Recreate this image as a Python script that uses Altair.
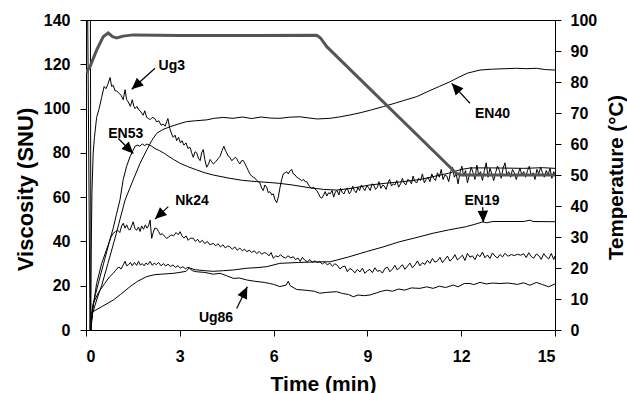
import math
import altair as alt
import pandas as pd

# ---------------- data ----------------
UG3 = [(0.05,150),(0.13,0),(0.16,30),(0.19,62),(0.23,80),(0.27,87),(0.34,96),(0.42,100),(0.5,105),(0.58,110),
       (0.64,109),(0.7,111),(0.77,114),(0.82,110),(0.87,110.5),(0.93,108),(0.98,108),(1.05,107),(1.12,106),(1.19,104),
       (1.25,108.5),(1.3,104),(1.35,103),(1.42,101),(1.48,104),(1.53,101),(1.57,100),(1.63,101),(1.68,99.5),(1.73,99),
       (1.78,98),(1.83,97),(1.88,99),(1.94,96),(2.0,95.5),(2.05,95),(2.12,96),(2.2,95.5),(2.26,94),(2.33,94.5),
       (2.4,92.5),(2.47,93),(2.53,92),(2.58,94),(2.62,95.5),(2.68,91),(2.74,88.5),(2.79,87),(2.85,88),(2.9,85.5),
       (2.96,87),(3.02,84.5),(3.07,85.5),(3.13,83.5),(3.2,84.5),(3.26,82),(3.33,82.5),(3.38,80),(3.43,78),(3.49,80.5),
       (3.54,80),(3.6,77.5),(3.65,76.5),(3.7,80),(3.75,81.5),(3.8,77),(3.86,73.5),(3.92,75),(3.97,77),(4.02,76),
       (4.07,75),(4.15,76),(4.23,77.5),(4.29,78.5),(4.35,81),(4.41,83),(4.46,81),(4.5,80),(4.55,78.5),(4.6,78),
       (4.66,76.5),(4.71,77),(4.77,78),(4.82,77.5),(4.87,76),(4.92,75),(4.98,76.5),(5.03,76.5),(5.09,75),(5.14,73.5),
       (5.19,72),(5.24,70.5),(5.3,69.5),(5.35,69),(5.41,68.5),(5.46,67.5),(5.51,67),(5.56,66.5),(5.62,64),(5.67,63),
       (5.72,65.5),(5.78,64.5),(5.83,62),(5.88,62.5),(5.94,61),(5.99,61.5),(6.04,59),(6.1,57.5),(6.15,60),(6.2,64),
       (6.26,68),(6.31,70.5),(6.37,71),(6.42,71.5),(6.47,70.5),(6.53,72),(6.58,72.5),(6.63,70.5),(6.69,70),(6.74,69),
       (6.8,68.5),(6.85,68),(6.9,67.5),(6.96,68),(7.01,67),(7.06,67),(7.12,65.5),(7.17,64.5),(7.22,64),(7.28,64.5),
       (7.33,63.5),(7.38,63),(7.44,61.5),(7.49,60),(7.54,59.5),(7.6,61),(7.65,62.5),(7.7,60.5),(7.76,62),(7.81,61.5),
       (7.87,63),(7.92,60),(7.98,62.5),(8.03,63),(8.09,61),(8.14,64),(8.2,62),(8.25,61.5),(8.31,63.5),(8.36,64),
       (8.42,61.5),(8.47,62.5),(8.53,65),(8.58,63),(8.64,62),(8.7,64.5),(8.75,63),(8.81,65.5),(8.87,64),(8.92,63),
       (8.98,65),(9.03,64.5),(9.09,63),(9.15,66),(9.2,65.5),(9.26,63.5),(9.32,64.5),(9.37,67),(9.43,64),(9.49,65.5),
       (9.54,65),(9.6,63.5),(9.66,66.5),(9.71,68),(9.77,65),(9.83,66),(9.88,65.5),(9.94,67.5),(10.0,64.5),(10.06,66),
       (10.12,68.5),(10.17,66.5),(10.23,65.5),(10.29,68),(10.35,67.5),(10.41,66),(10.46,69.5),(10.52,67),(10.58,66.5),
       (10.64,68.5),(10.7,67.5),(10.76,70.5),(10.82,66.5),(10.88,68),(10.94,69),(11.0,67),(11.06,70.5),(11.12,68.5),
       (11.18,67.5),(11.24,71),(11.3,69),(11.36,72.5),(11.42,68),(11.48,70),(11.54,69.5),(11.6,67),(11.66,71.5),
       (11.72,73.5),(11.78,69),(11.84,70.5),(11.9,66),(11.96,71),(12.02,74),(12.08,69.5),(12.14,72),(12.2,66.5),
       (12.26,70),(12.32,73.5),(12.38,71),(12.44,68),(12.5,74.5),(12.56,70),(12.62,71.5),(12.68,67.5),(12.74,72),
       (12.8,75.5),(12.86,69),(12.92,73),(12.98,70.5),(13.04,67.5),(13.1,71),(13.16,74),(13.22,72),(13.28,68.5),
       (13.34,73),(13.4,75.5),(13.46,70),(13.52,71.5),(13.58,69),(13.64,72.5),(13.7,71),(13.76,68),(13.82,70.5),
       (13.88,73),(13.94,70),(14.0,71.5),(14.06,69),(14.12,72),(14.18,74),(14.24,69.5),(14.3,71),(14.36,68),
       (14.42,72.5),(14.48,70.5),(14.54,73.5),(14.6,71),(14.66,69),(14.72,72),(14.78,70),(14.84,73),(14.9,68.5),
       (14.96,71.5),(15.0,70)]

EN53 = [(0.14,150),(0.16,0),(0.2,9),(0.3,16),(0.45,24),(0.6,32),(0.75,40),(0.87,46),(0.97,52),(1.09,59),(1.19,68),
        (1.3,74),(1.41,78.3),(1.5,81),(1.57,83),(1.65,83.5),(1.72,83),(1.8,84),(1.88,83.3),(1.95,84),(2.02,83.5),
        (2.1,83),(2.2,82),(2.35,81),(2.5,79.8),(2.58,79),(2.8,77),(3.01,75.3),(3.25,73.8),(3.54,72.3),(3.8,71),
        (4.07,70),(4.35,69.2),(4.6,68.5),(5.0,67.6),(5.46,67),(5.88,66.6),(6.2,66.2),(6.6,65.5),(7.16,64.2),(7.6,63.5),
        (8.02,63.2),(8.5,64),(9.08,65.5),(9.6,66.3),(10.15,67),(10.7,68),(11.21,69.6),(11.6,70.8),(12.0,72.5),(12.3,73.2),
        (13.0,73.2),(14.0,73.0),(14.6,73.3),(15.0,73.0)]

EN40 = [(0.16,3),(0.22,8),(0.35,14),(0.5,20),(0.7,30),(0.9,40),(1.05,48),(1.25,58.7),(1.4,64),(1.51,67.8),(1.73,75.3),
        (1.95,81.5),(2.1,85.5),(2.26,88.8),(2.45,90.5),(2.69,91.8),(2.95,93),(3.22,94.1),(3.5,94.5),(3.86,94.9),(4.1,95.6),
        (4.39,96),(4.7,95.6),(5.0,96.2),(5.3,95.5),(5.6,96.2),(5.9,95.7),(6.2,95.6),(6.5,96.1),(6.84,96.3),(7.1,95.8),
        (7.4,95.3),(7.8,95.6),(8.1,96.2),(8.44,97.1),(8.8,98.2),(9.1,99.3),(9.51,100.9),(9.9,102.5),(10.2,103.8),
        (10.58,105.4),(10.9,107.5),(11.3,110),(11.64,112.1),(11.9,114),(12.2,116),(12.6,117.4),(13.0,117.8),(13.4,118),
        (13.77,118.2),(14.1,118),(14.4,118.2),(14.7,117.6),(15.0,117.4)]

NK24 = [(0.16,0),(0.22,10),(0.34,21),(0.5,30),(0.65,36),(0.8,42),(0.87,43.7),(0.95,44.5),(1.02,45),(1.08,44),(1.14,47),
        (1.19,48.2),(1.25,46),(1.3,47.5),(1.36,45.5),(1.41,45.2),(1.46,47),(1.51,48.9),(1.56,46),(1.62,45),(1.68,46.5),
        (1.73,44.5),(1.78,47),(1.84,45.5),(1.9,47.5),(1.95,46),(2.0,47),(2.05,49.7),(2.1,41.4),(2.15,44),(2.2,46),
        (2.26,45.9),(2.32,44.5),(2.38,43),(2.44,43.5),(2.5,42.5),(2.58,41.4),(2.65,42),(2.72,43),(2.8,42.5),(2.88,44),
        (2.95,43),(3.01,44.4),(3.07,42.5),(3.13,41.5),(3.2,42.5),(3.27,40.5),(3.34,41.5),(3.43,41.4),(3.5,40),(3.57,41),
        (3.64,39.5),(3.72,40.5),(3.8,39),(3.88,40),(3.96,38.5),(4.07,39.1),(4.15,38),(4.22,39),(4.3,37.5),(4.38,38.5),
        (4.46,37),(4.53,38),(4.6,37.6),(4.68,36.5),(4.76,37.5),(4.84,36),(4.92,37),(5.0,35.8),(5.07,36.5),(5.14,35.4),
        (5.22,36),(5.3,35),(5.38,35.8),(5.46,34.5),(5.54,35.5),(5.62,34.2),(5.7,35),(5.78,34.6),(5.85,33.5),(5.92,35),
        (5.99,32.4),(6.07,33.5),(6.15,33),(6.22,34),(6.3,33),(6.38,32.5),(6.46,33.5),(6.55,32.6),(6.63,33.1),(6.7,31.8),
        (6.78,32.5),(6.85,31),(6.92,32.8),(7.0,31.5),(7.08,30.8),(7.16,31.8),(7.24,30.5),(7.32,31.2),(7.4,30.5),(7.48,30.8),
        (7.56,29.8),(7.64,30.6),(7.72,29.4),(7.8,30.2),(7.88,28.8),(7.96,29.9),(8.04,29.2),(8.12,27.6),(8.2,28.5),
        (8.28,28.9),(8.36,26.3),(8.44,27.8),(8.52,27.1),(8.6,25.8),(8.68,27.4),(8.76,26.2),(8.84,27.9),(8.92,25.6),
        (9.0,26.8),(9.08,27.3),(9.16,25.9),(9.24,28.1),(9.32,26.5),(9.4,26.9),(9.48,25.7),(9.56,27.8),(9.64,28.4),
        (9.72,26.3),(9.8,27.5),(9.88,29.2),(9.96,27.1),(10.04,28.3),(10.12,29.5),(10.2,27.4),(10.28,28.8),(10.36,30.2),
        (10.44,28.1),(10.52,29.4),(10.6,31.2),(10.68,29.0),(10.76,30.4),(10.84,29.6),(10.92,31.5),(11.0,30.1),(11.08,32.3),
        (11.16,30.6),(11.24,31.2),(11.32,32.8),(11.4,30.4),(11.48,31.9),(11.56,33.4),(11.64,31.1),(11.72,32.2),(11.8,34.0),
        (11.88,31.6),(11.96,32.7),(12.04,33.8),(12.12,31.4),(12.2,34.6),(12.28,32.9),(12.36,33.5),(12.44,31.8),(12.52,34.2),
        (12.6,33.1),(12.68,35.2),(12.76,32.6),(12.84,33.9),(12.92,32.3),(13.0,34.8),(13.08,33.4),(13.16,32.5),(13.24,34.1),
        (13.32,33.0),(13.4,34.6),(13.5,33.3),(13.6,34.1),(13.7,33.6),(13.8,34.2),(13.9,33.8),(14.0,34.4),(14.08,32.7),
        (14.16,34.9),(14.24,33.2),(14.32,32.4),(14.4,34.3),(14.48,33.6),(14.56,31.9),(14.64,34.5),(14.72,33.0),(14.8,32.1),
        (14.88,34.6),(14.96,31.8),(15.0,33.5)]

EN19 = [(0.18,5),(0.23,12),(0.4,17),(0.6,21),(0.75,24),(0.87,25.6),(0.95,27),(1.05,28.5),(1.12,27.5),(1.19,29.4),
        (1.25,31),(1.3,29),(1.36,29.5),(1.42,30.5),(1.48,29),(1.55,30.5),(1.62,29.2),(1.68,31),(1.74,29.3),(1.8,30),
        (1.86,29),(1.92,30.3),(1.98,29.5),(2.05,31),(2.12,29.2),(2.18,30.2),(2.25,29.5),(2.32,30.5),(2.4,29),(2.48,30),
        (2.55,28.8),(2.62,29.8),(2.7,28.6),(2.78,29.4),(2.86,28.3),(2.94,29),(3.02,28),(3.1,28.6),(3.18,27.6),(3.26,28.3),
        (3.33,27.9),(3.5,27.2),(3.8,26.8),(4.07,26.5),(4.4,26.8),(4.71,27.1),(5.14,27.9),(5.5,28.2),(5.78,28.6),(6.2,30.1),
        (6.8,30.5),(7.48,30.8),(7.8,30.8),(8.0,31.5),(8.4,33),(8.97,35.4),(9.5,37.5),(10.04,39.9),(10.5,41.5),(11.1,43.7),
        (11.6,45.2),(12.17,46.7),(12.5,48),(12.7,48.9),(12.8,48.4),(13.02,49),(14.0,49),(14.2,49.6),(14.3,49),(15.0,48.9)]

UG86 = [(0.13,7.5),(0.25,8.5),(0.5,10.5),(0.87,13.5),(1.1,16),(1.41,19.6),(1.65,22),(1.94,24.1),(2.2,25),(2.5,25.3),
        (2.79,25.6),(3.0,26),(3.2,26.5),(3.3,28),(3.4,26.8),(3.54,26.3),(3.8,26),(4.07,25.2),(4.29,25.6),(4.5,24.5),
        (4.71,23.3),(4.9,23.5),(5.14,22.6),(5.4,22),(5.7,21.5),(5.88,21),(6.0,20.6),(6.2,19.6),(6.4,20.3),(6.47,22),
        (6.53,20),(6.74,18.3),(7.0,18),(7.3,17.5),(7.48,16.6),(7.7,17),(8.02,17.3),(8.2,16.5),(8.4,16),(8.55,15),
        (8.7,15.8),(8.9,15.5),(9.08,15.8),(9.3,16.8),(9.45,17.5),(9.62,18),(9.8,17.5),(10.0,18.5),(10.2,18),(10.4,19),
        (10.68,18.8),(10.9,19.5),(11.1,18.8),(11.3,19.8),(11.5,19.2),(11.75,20.3),(11.9,19.5),(12.1,21),(12.28,21),
        (12.4,20.5),(12.6,21.5),(12.8,20.8),(13.0,21.2),(13.24,21),(13.5,21.2),(13.8,20.6),(14.0,21.3),(14.2,20.2),
        (14.4,21.5),(14.6,20.5),(14.8,19.5),(15.0,20.8)]

TEMP = [(0.0,83),(0.13,85),(0.34,90.3),(0.55,94.6),(0.71,95.8),(0.85,94.6),(0.98,94.2),(1.19,94.8),(1.51,95.2),
        (3.0,95),(5.0,95),(7.38,95.1),(7.5,94.2),(7.7,91.4),(11.85,50.5),(12.0,50),(15.0,50)]

LABELS = ["Ug3", "EN53", "Nk24", "Ug86", "EN40", "EN19"]
LABEL_T = [2.744, 1.273, 3.39, 4.158, 13.0, 12.665]
LABEL_V = [117.4, 86.6, 56.5, 3.4, 95.6, 56.5]
ARROW_T0 = [2.207, 1.033, 2.632, 4.820, 12.28, 12.688]
ARROW_V0 = [118.2, 86.5, 55.7, 9.7, 102.4, 55.5]
ARROW_T1 = [1.462, 1.513, 2.207, 5.159, 11.696, 12.707]
ARROW_V1 = [108.7, 79.7, 50.1, 19.5, 111.4, 48.6]

X_TICKS = [0, 3, 6, 9, 12, 15]
Y_TICKS = [0, 20, 40, 60, 80, 100, 120, 140]
T_TICKS = [0, 10, 20, 30, 40, 50, 60, 70, 80, 90, 100]

# ---------------- layout ----------------
W, H = 469, 310
FONT = "Liberation Sans"
SX, SY = W / 15.0, H / 140.0

rows = []
for name, series in [("Ug3", UG3), ("EN53", EN53), ("EN40", EN40), ("Nk24", NK24), ("EN19", EN19), ("Ug86", UG86)]:
    for i, (t, v) in enumerate(series):
        rows.append({"series": name, "i": i, "t": t, "v": v})
visc_df = pd.DataFrame(rows)
temp_df = pd.DataFrame({"t": [p[0] for p in TEMP], "temp": [p[1] for p in TEMP]})

label_df = pd.DataFrame({"label": LABELS, "t": LABEL_T, "v": LABEL_V})
angles = []
for t0, v0, t1, v1 in zip(ARROW_T0, ARROW_V0, ARROW_T1, ARROW_V1):
    dx = (t1 - t0) * SX
    dy = -(v1 - v0) * SY
    angles.append(math.degrees(math.atan2(dx, -dy)) % 360)
arrow_df = pd.DataFrame({"t0": ARROW_T0, "v0": ARROW_V0, "t1": ARROW_T1, "v1": ARROW_V1, "ang": angles})

xscale = alt.Scale(domain=[0, 15], nice=False, zero=False)
yscale = alt.Scale(domain=[0, 140], nice=False)

x_axis = alt.Axis(values=X_TICKS, title="Time (min)", labelBaseline="alphabetic", labelPadding=25,
                  titleFontSize=21, titleX=237, titleY=60, titleBaseline="alphabetic", titleAlign="center")
y_axis = alt.Axis(values=Y_TICKS, title="Viscosity (SNU)", labelPadding=10, titleFontSize=22,
                  titleAngle=270, titleX=-54, titleY=169, titleBaseline="alphabetic", titleAlign="center")
t_axis = alt.Axis(values=T_TICKS, title="Temperature (°C)", orient="right", labelPadding=9, titleFontSize=20.5,
                  titleAngle=270, titleX=67, titleY=157, titleBaseline="alphabetic", titleAlign="center")

visc = alt.Chart(visc_df).mark_line(color="black", strokeWidth=1, clip=True).encode(
    x=alt.X("t:Q", scale=xscale, axis=x_axis),
    y=alt.Y("v:Q", scale=yscale, axis=y_axis),
    detail="series:N",
    order="i:Q",
)

texts = alt.Chart(label_df).mark_text(font=FONT, fontWeight="bold", fontSize=14, color="black",
                                      align="center", baseline="alphabetic").encode(
    x=alt.X("t:Q", scale=xscale), y=alt.Y("v:Q", scale=yscale), text="label:N")

shafts = alt.Chart(arrow_df).mark_rule(color="black", strokeWidth=1.2).encode(
    x=alt.X("t0:Q", scale=xscale), y=alt.Y("v0:Q", scale=yscale), x2="t1:Q", y2="v1:Q")

heads = alt.Chart(arrow_df).mark_point(shape="M0,0L-0.45,1L0.45,1Z", filled=True, opacity=1,
                                       color="black", size=540, strokeWidth=0).encode(
    x=alt.X("t1:Q", scale=xscale), y=alt.Y("v1:Q", scale=yscale), angle=alt.Angle("ang:Q", scale=None))

temp = alt.Chart(temp_df).mark_line(color="#555555", strokeWidth=3, clip=True).encode(
    x=alt.X("t:Q", scale=xscale),
    y=alt.Y("temp:Q", scale=alt.Scale(domain=[0, 100], nice=False), axis=t_axis),
)

left = alt.layer(visc, shafts, heads, texts)
chart = alt.layer(left, temp).resolve_scale(y="independent").properties(
    width=W, height=H,
    autosize=alt.AutoSizeParams(type="none"),
    padding={"left": 86, "top": 20, "right": 72, "bottom": 63},
).configure_view(stroke="black", strokeWidth=1).configure_axis(
    grid=False, domainColor="black", tickColor="black", labelColor="black", titleColor="black",
    labelFont=FONT, titleFont=FONT, labelFontWeight="bold", titleFontWeight="bold",
    labelFontSize=16, tickSize=6, domainWidth=1, tickWidth=1,
)

chart.save("out.html", embed_options={"renderer": "svg", "actions": False})
